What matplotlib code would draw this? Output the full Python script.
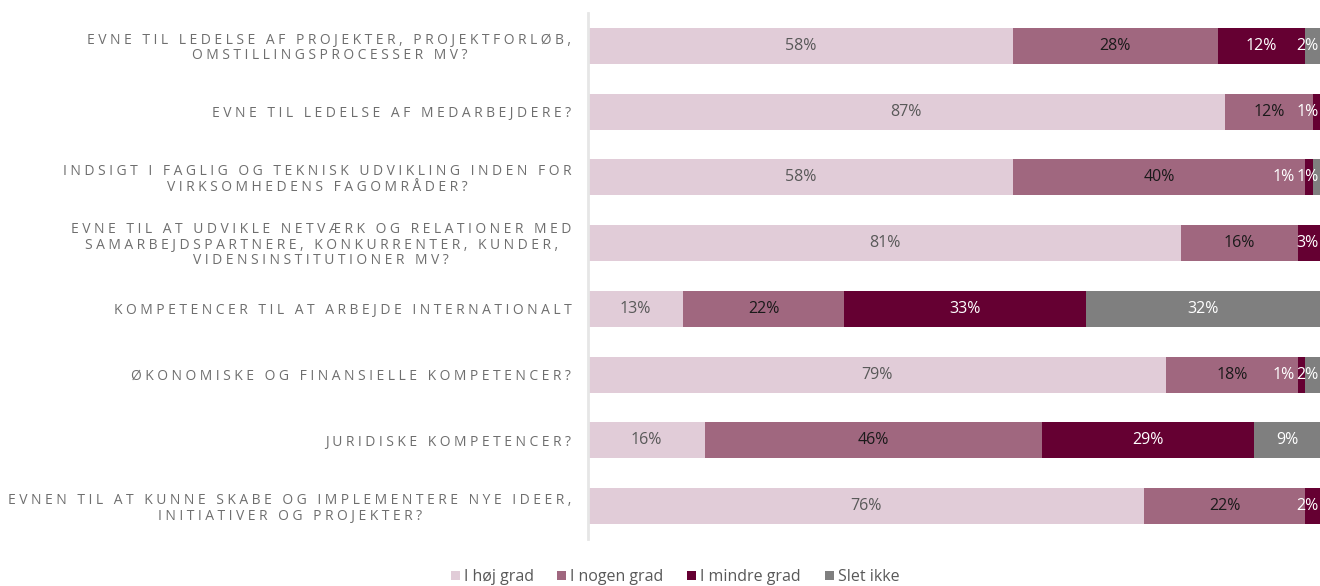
import matplotlib
matplotlib.use("Agg")
import matplotlib.pyplot as plt
from matplotlib.patches import Patch

plt.rcParams['font.family'] = ['Open Sans', 'DejaVu Sans']

categories = [
    "EVNE TIL LEDELSE AF PROJEKTER, PROJEKTFORLØB,\nOMSTILLINGSPROCESSER MV?",
    "EVNE TIL LEDELSE AF MEDARBEJDERE?",
    "INDSIGT I FAGLIG OG TEKNISK UDVIKLING INDEN FOR\nVIRKSOMHEDENS FAGOMRÅDER?",
    "EVNE TIL AT UDVIKLE NETVÆRK OG RELATIONER MED\nSAMARBEJDSPARTNERE, KONKURRENTER, KUNDER,\nVIDENSINSTITUTIONER MV?",
    "KOMPETENCER TIL AT ARBEJDE INTERNATIONALT",
    "ØKONOMISKE OG FINANSIELLE KOMPETENCER?",
    "JURIDISKE KOMPETENCER?",
    "EVNEN TIL AT KUNNE SKABE OG IMPLEMENTERE NYE IDEER,\nINITIATIVER OG PROJEKTER?",
]
series_names = ["I høj grad", "I nogen grad", "I mindre grad", "Slet ikke"]
hoej = [58, 87, 58, 81, 13, 79, 16, 76]
nogen = [28, 12, 40, 16, 22, 18, 46, 22]
mindre = [12, 1, 1, 3, 33, 1, 29, 2]
slet = [2, 0, 1, 0, 32, 2, 9, 0]

colors = ["#E1CCD8", "#A0677F", "#650032", "#7F7F7F"]
text_colors = ["#595959", "#1A1A1A", "#FFFFFF", "#FFFFFF"]

W, H = 1320, 586
fig = plt.figure(figsize=(W / 100, H / 100), dpi=100)
ax = fig.add_axes([588 / W, (H - 539) / H, 732 / W, 526 / H])

series = [hoej, nogen, mindre, slet]
ypos = list(range(len(categories)))
left = [0] * len(categories)
texts = [[] for _ in categories]
for s, vals in enumerate(series):
    ax.barh(ypos, vals, left=left, height=0.55, color=colors[s], edgecolor='none')
    for i, v in enumerate(vals):
        if v > 0:
            t = ax.text(left[i] + v / 2, i, f"{v}%", ha='center', va='center',
                        fontsize=11.5, color=text_colors[s], clip_on=True)
            texts[i].append(t)
    left = [l + v for l, v in zip(left, vals)]

ax.set_xlim(0, 100)
ax.set_ylim(len(categories) - 0.5, -0.5)
for sp in ['top', 'right', 'bottom']:
    ax.spines[sp].set_visible(False)
ax.spines['left'].set_color('#E6E6E6')
ax.spines['left'].set_linewidth(2)
ax.set_xticks([])


def spaced(s):
    return "\n".join("\u2005".join(list(line)) for line in s.split("\n"))


ax.set_yticks(ypos)
ax.set_yticklabels([spaced(c) for c in categories], fontsize=10, color='#6E6E6E',
                   multialignment='center', linespacing=1.05)
ax.tick_params(axis='y', length=0, pad=12)

# resolve label overlaps (right to left)
fig.canvas.draw()
r = fig.canvas.get_renderer()
inv = ax.transData.inverted()
for row in texts:
    limit = 99.8
    for t in reversed(row):
        bb = t.get_window_extent(r)
        (x0, _), (x1, _) = inv.transform([(bb.x0, 0), (bb.x1, 0)])
        w = x1 - x0
        cx = t.get_position()[0]
        if x1 > limit:
            cx = limit - w / 2
            t.set_x(cx)
        limit = cx - w / 2 - 0.2

handles = [Patch(facecolor=c, edgecolor='none') for c in colors]
fig.legend(handles, series_names, loc='center', bbox_to_anchor=(675 / W, 1 - 577 / H),
           ncol=4, frameon=False, fontsize=11.5, labelcolor='#595959',
           handlelength=0.55, handleheight=0.55, handletextpad=0.25, columnspacing=1.5)

fig.savefig("out.png", dpi=100)
